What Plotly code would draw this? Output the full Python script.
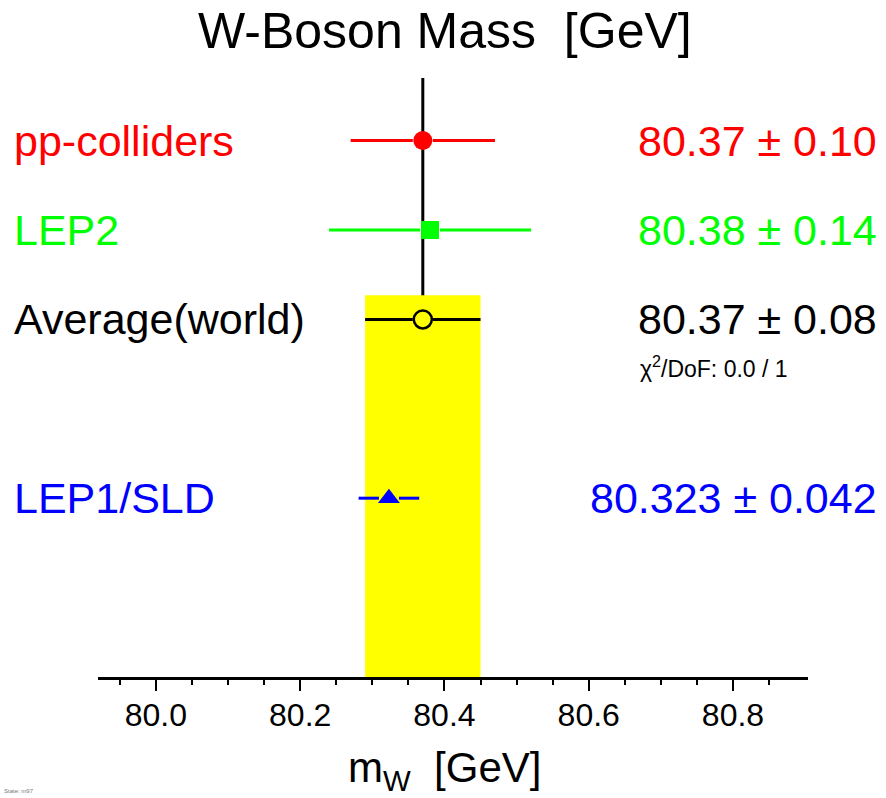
import plotly.graph_objects as go

# ---- data ----
labels = ["pp-colliders", "LEP2", "Average(world)", "LEP1/SLD"]
values = [80.37, 80.38, 80.37, 80.323]
errors = [0.10, 0.14, 0.08, 0.042]
value_labels = ["80.37 \u00b1 0.10", "80.38 \u00b1 0.14", "80.37 \u00b1 0.08", "80.323 \u00b1 0.042"]
chi2_text = "0.0 / 1"
average_value = 80.37
average_error = 0.08
tick_values = [80.0, 80.2, 80.4, 80.6, 80.8]
tick_labels = ["80.0", "80.2", "80.4", "80.6", "80.8"]

# ---- styles / layout ----
colors = ["#ff0000", "#00ff00", "#000000", "#0000ff"]
symbols = ["circle", "square", "circle-open", "triangle-up"]
msizes = [19, 18, 18, 19]
rows = [5, 4, 3, 1]
FONT = "Liberation Sans, Arial, Helvetica, sans-serif"

W, H = 886, 798
L, R, T, B = 98, 78, 78, 121
XR = [79.9197, 80.904]
YR = [-1.0, 5.70]
plot_w = W - L - R
px_per_unit = plot_w / (XR[1] - XR[0])
gap = 10.0 / px_per_unit
plot_h = H - T - B


def ypaper(py):
    return (H - B - py) / plot_h


def xpaper(px):
    return (px - L) / plot_w


fig = go.Figure()

# error bars (stopping at the marker edge)
for v, e, c, r in zip(values, errors, colors, rows):
    fig.add_trace(go.Scatter(
        x=[v - e, v - gap, None, v + gap, v + e],
        y=[r, r, None, r, r],
        mode="lines", line=dict(color=c, width=3),
        hoverinfo="skip", showlegend=False))

# markers
for v, c, r, s, ms in zip(values, colors, rows, symbols, msizes):
    fig.add_trace(go.Scatter(
        x=[v], y=[r], mode="markers",
        marker=dict(symbol=s, size=ms, color=c,
                    line=dict(color=c, width=2.5 if "open" in s else 0)),
        showlegend=False))

# yellow band for the average
fig.add_shape(type="rect", xref="x", yref="y",
              x0=average_value - average_error, x1=average_value + average_error,
              y0=YR[0], y1=3.27, fillcolor="#ffff00", line=dict(width=0), layer="below")
# vertical line at the average
fig.add_shape(type="line", xref="x", yref="paper",
              x0=average_value, x1=average_value, y0=0, y1=1,
              line=dict(color="black", width=3), layer="below")

annotations = []
for lab, vl, c, r in zip(labels, value_labels, colors, rows):
    annotations.append(dict(x=xpaper(12), y=r, xref="paper", yref="y", text=lab,
                            showarrow=False, xanchor="left", yanchor="middle",
                            font=dict(family=FONT, size=43, color=c)))
    annotations.append(dict(x=xpaper(879), y=r, xref="paper", yref="y", text=vl,
                            showarrow=False, xanchor="right", yanchor="middle",
                            font=dict(family=FONT, size=43, color=c)))

annotations.append(dict(x=xpaper(790), y=ypaper(367), xref="paper", yref="paper",
                        text="\u03c7<sup>2</sup>/DoF: " + chi2_text, showarrow=False,
                        xanchor="right", yanchor="middle",
                        font=dict(family=FONT, size=23, color="black")))

annotations.append(dict(x=xpaper(445), y=ypaper(31), xref="paper", yref="paper",
                        text="W-Boson Mass\u00a0\u00a0[GeV]", showarrow=False,
                        xanchor="center", yanchor="middle",
                        font=dict(family=FONT, size=50, color="black")))

annotations.append(dict(x=xpaper(444), y=ypaper(770), xref="paper", yref="paper",
                        text="m<sub>W</sub>\u00a0\u00a0[GeV]", showarrow=False,
                        xanchor="center", yanchor="middle",
                        font=dict(family=FONT, size=42, color="black")))

annotations.append(dict(x=xpaper(2), y=ypaper(791), xref="paper", yref="paper",
                        text="State: m97", showarrow=False,
                        xanchor="left", yanchor="middle",
                        font=dict(family=FONT, size=6, color="#777777")))

fig.update_layout(
    width=W, height=H,
    margin=dict(l=L, r=R, t=T, b=B, pad=0),
    paper_bgcolor="white", plot_bgcolor="white",
    showlegend=False,
    annotations=annotations,
    xaxis=dict(range=XR, showgrid=False, zeroline=False,
               showline=True, linecolor="black", linewidth=3,
               ticks="outside", ticklen=11, tickwidth=2, tickcolor="black",
               tickmode="array", tickvals=tick_values, ticktext=tick_labels,
               tickfont=dict(family=FONT, size=32, color="black"),
               ticklabelstandoff=-3,
               minor=dict(tickmode="array",
                          tickvals=[79.95, 80.05, 80.1, 80.15, 80.25, 80.3, 80.35,
                                    80.45, 80.5, 80.55, 80.65, 80.7, 80.75, 80.85],
                          ticks="outside", ticklen=5, tickwidth=2, tickcolor="black"),
               fixedrange=True),
    yaxis=dict(range=YR, visible=False, fixedrange=True),
)

fig.write_html("out.html", config={"displayModeBar": False},
               post_script="document.body.style.margin='0';document.body.style.overflow='hidden';")
